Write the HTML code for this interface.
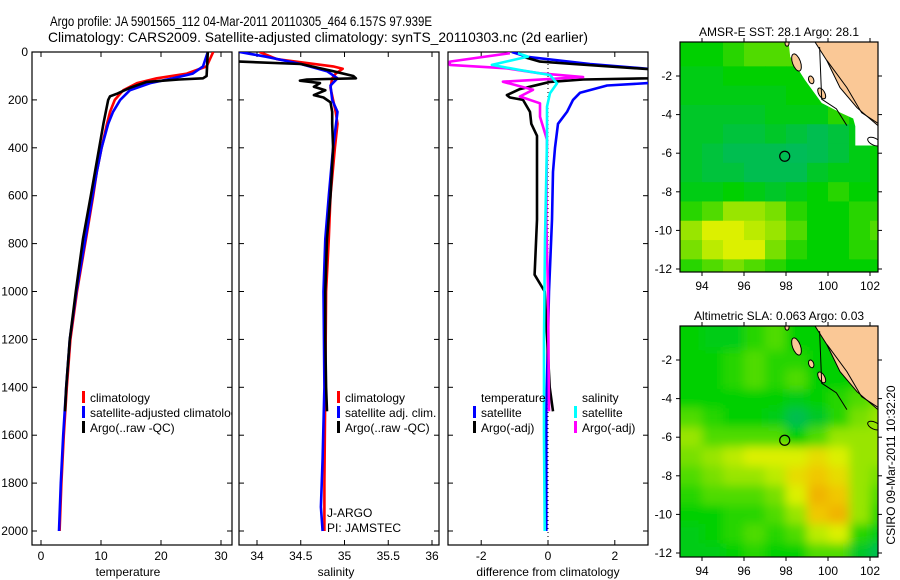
<!DOCTYPE html>
<html><head><meta charset="utf-8"><style>
html,body{margin:0;padding:0;background:#fff;}
svg{display:block;font-family:"Liberation Sans",sans-serif;}
</style></head><body>
<svg id="fig" width="900" height="580" viewBox="0 0 900 580" xmlns="http://www.w3.org/2000/svg">
<defs>
<clipPath id="c1"><rect x="32" y="52" width="200" height="493"/></clipPath>
<clipPath id="c2"><rect x="239" y="52" width="200" height="493"/></clipPath>
<clipPath id="c3"><rect x="448" y="52" width="200" height="493"/></clipPath>
<clipPath id="cm1"><rect x="680" y="42" width="198" height="230"/></clipPath>
<clipPath id="cm2"><rect x="680" y="326" width="198" height="231"/></clipPath>
<filter id="blur"><feGaussianBlur stdDeviation="5"/></filter>
</defs>
<text x="50" y="26" font-size="14" textLength="382" lengthAdjust="spacingAndGlyphs">Argo profile: JA 5901565_112 04-Mar-2011 20110305_464 6.157S 97.939E</text>
<text x="48" y="42" font-size="14" textLength="540" lengthAdjust="spacingAndGlyphs">Climatology: CARS2009. Satellite-adjusted climatology: synTS_20110303.nc (2d earlier)</text>
<g id="layer"></g>
</svg>
<script>
// ---- profile data (pressure in dbar) ----
const depthClim=[0,60,90,110,130,160,200,250,300,400,500,600,780,1000,1200,1400,1600,1800,2000];
const tempClim=[28.7,27.6,24.3,19.3,16,13.7,12.3,11.5,11,10.1,9.3,8.7,7.5,6,4.9,4.3,3.8,3.4,3.1];
const tempSat=[27.8,27,25.3,22,18.2,14.8,13.2,12,11.2,10.1,9.3,8.6,7.4,5.9,4.8,4.2,3.7,3.3,3.0];
const depthArgo=[0,100,110,115,125,150,175,185,200,300,400,500,600,780,1000,1200,1400,1500];
const tempArgo=[27.8,27.6,27,23,17.6,14.8,12.6,11.5,11.2,10.4,9.7,9,8.3,7,5.8,4.8,4.2,4.0];
const depthSalClim=[0,30,60,70,90,110,150,250,300,400,600,780,1000,1400,1800,2000];
const salClim=[34.03,34.23,34.87,34.98,34.9,34.86,34.84,34.9,34.92,34.89,34.84,34.82,34.79,34.78,34.77,34.77];
const depthSalSat=[0,20,50,80,110,140,200,250,400,600,780,1000,1400,1700,1900,2000];
const salSat=[33.8,34.11,34.5,34.8,34.92,34.84,34.86,34.92,34.87,34.82,34.78,34.76,34.77,34.75,34.73,34.75];
const depthSalArgo=[40,50,80,100,110,115,120,130,145,160,180,190,210,250,300,400,600,780,1000,1200,1400,1500];
const salArgo=[33.8,34.5,34.87,35.1,35.13,34.57,34.49,34.72,34.65,34.78,34.65,34.76,34.84,34.86,34.86,34.87,34.84,34.8,34.78,34.78,34.79,34.8];
const depthDT=[0,20,50,70,90,110,130,140,170,200,250,300,400,500,700,1000,1500,2000];
const diffTSat=[-1.08,-0.63,1.26,3,3.6,3.6,3,1.77,0.96,0.75,0.57,0.3,0.21,0.15,0.12,0.03,-0.05,-0.05];
const depthDA=[20,40,50,75,100,110,115,125,135,155,180,190,200,250,300,350,500,700,930,1000,1400,1500];
const diffTArgo=[-0.75,-0.24,0.75,3.4,3.4,3,1.05,0.06,-0.24,-0.84,-1.23,-1.14,-0.75,-0.54,-0.5,-0.33,-0.33,-0.33,-0.4,-0.1,0.05,0.15];
const depthDS=[5,19,54,75,96,131,172,228,367,783,1200,1600,2000];
const diffSSat=[-0.9,-0.6,-1.68,-0.84,0.06,0.27,0.06,-0.03,-0.03,-0.09,-0.12,-0.12,-0.1];
const depthDSA=[5,40,54,68,89,105,124,158,186,214,270,339,367,700,1000,1500];
const diffSArgo=[-1.14,-2.94,-2.94,-1.24,-0.24,1.05,-1.35,-0.45,-0.84,-0.24,-0.24,-0.09,-0.03,-0.05,0.0,0.03];
const yTicks=[0,200,400,600,800,1000,1200,1400,1600,1800,2000];
const tTicks=[0,10,20,30];
const sTicks=[34,34.5,35,35.5,36];
const dTicks=[-2,0,2];
// ---- map data (rows lat -1..-12, cols lon 93.5..102.5) ----
const mapLons=[93.5,94.5,95.5,96.5,97.5,98.5,99.5,100.5,101.5,102.5];
const mapLats=[-1,-2,-3,-4,-5,-6,-7,-8,-9,-10,-11,-12];
const sstGrid=[
[.5,.5,.55,.6,.6,.6,.5,.5,.5,.5],
[.45,.45,.5,.5,.5,.5,.5,.5,.5,.5],
[.45,.45,.45,.45,.45,.5,.5,.5,.5,.5],
[.4,.4,.4,.4,.45,.45,.45,.55,.5,.5],
[.4,.4,.35,.35,.4,.35,.3,.35,.45,.5],
[.4,.35,.3,.3,.3,.25,.3,.35,.45,.5],
[.4,.35,.35,.3,.3,.3,.4,.45,.45,.5],
[.45,.45,.5,.45,.4,.45,.5,.55,.5,.5],
[.55,.6,.7,.7,.65,.55,.5,.5,.55,.55],
[.7,.8,.8,.75,.7,.6,.5,.5,.55,.6],
[.65,.75,.8,.8,.65,.55,.5,.5,.55,.55],
[.55,.6,.65,.6,.55,.5,.5,.5,.5,.5]];
const slaGrid=[
[.5,.45,.45,.55,.6,.5,.5,.5,.5,.5],
[.5,.5,.55,.6,.55,.55,.5,.5,.5,.5],
[.5,.5,.55,.6,.55,.6,.5,.5,.5,.6],
[.5,.5,.5,.5,.5,.45,.5,.55,.6,.65],
[.6,.55,.5,.5,.45,.3,.4,.55,.65,.7],
[.7,.6,.6,.6,.6,.5,.6,.7,.7,.7],
[.65,.7,.75,.8,.8,.8,.85,.8,.7,.7],
[.6,.65,.7,.7,.75,.85,.9,.85,.7,.65],
[.55,.6,.6,.6,.65,.8,.95,.9,.7,.6],
[.5,.5,.55,.55,.6,.7,.9,.95,.7,.55],
[.45,.5,.55,.6,.55,.6,.75,.8,.55,.45],
[.45,.45,.5,.55,.5,.5,.6,.6,.4,.3]];
const lonTicks=[94,96,98,100,102];
const latTicks=[-2,-4,-6,-8,-10,-12];
const argoPos=[97.939,-6.157];

const NS='http://www.w3.org/2000/svg';
const L=document.getElementById('layer');
function mk(tag,attrs,parent){const e=document.createElementNS(NS,tag);for(const k in attrs)e.setAttribute(k,attrs[k]);(parent||L).appendChild(e);return e;}
function txt(x,y,s,fs,anchor,parent){const e=mk('text',{x:x,y:y,'font-size':fs,'text-anchor':anchor||'start'},parent);e.textContent=s;return e;}
const Y=d=>52+d*0.2395;
const xT=t=>41+t*6;
const xS=s=>257+(s-34)*87.5;
const xD=v=>548+v*33.4;

function panel(x0,clip,name,xf,ticks,label,lx,fmt){
  const g=mk('g',{});
  
  
  const r=mk('rect',{x:x0,y:52,width:200,height:493,fill:'none',stroke:'#000','stroke-width':1.2},g);
  
  
  yTicks.forEach(d=>{mk('line',{x1:x0,x2:x0+5,y1:Y(d),y2:Y(d),stroke:'#000'},g);mk('line',{x1:x0+195,x2:x0+200,y1:Y(d),y2:Y(d),stroke:'#000'},g);});
  ticks.forEach(t=>{const x=xf(t);mk('line',{x1:x,x2:x,y1:545,y2:540,stroke:'#000'},g);mk('line',{x1:x,x2:x,y1:52,y2:57,stroke:'#000'},g);
    const tl=txt(x,560,fmt(t),12,'middle',g);
    
    });
  const xl=txt(lx,576,label,12,'middle',g);
  
  
  return g;
}
function series(depths,vals,xf,color,clip,name,w){
  const pts=depths.map((d,i)=>xf(vals[i]).toFixed(1)+','+Y(d).toFixed(1)).join(' ');
  const p=mk('polyline',{points:pts,fill:'none',stroke:color,'stroke-width':w||2.6,'clip-path':'url(#'+clip+')','stroke-linejoin':'round'});
  
  
}
yTicks.forEach(d=>{const t=txt(28,Y(d)+4,String(d),12,'end');
  
  });
panel(32,'c1','temperature-panel',xT,tTicks,'temperature',128,String);
panel(239,'c2','salinity-panel',xS,sTicks,'salinity',336,String);
panel(448,'c3','difference-panel',xD,dTicks,'difference from climatology',548,String);
const z=mk('line',{x1:xD(0),x2:xD(0),y1:52,y2:545,stroke:'#000','stroke-dasharray':'1,3'});



series(depthClim,tempClim,xT,'#f00','c1','temperature-climatology-line');
series(depthClim,tempSat,xT,'#00f','c1','temperature-satellite-line');
series(depthArgo,tempArgo,xT,'#000','c1','temperature-argo-line');
series(depthSalClim,salClim,xS,'#f00','c2','salinity-climatology-line');
series(depthSalSat,salSat,xS,'#00f','c2','salinity-satellite-line');
series(depthSalArgo,salArgo,xS,'#000','c2','salinity-argo-line');
series(depthDT,diffTSat,xD,'#00f','c3','temp-satellite-diff-line');
series(depthDA,diffTArgo,xD,'#000','c3','temp-argo-diff-line');
series(depthDSA,diffSArgo,xD,'#f0f','c3','sal-argo-diff-line');
series(depthDS,diffSSat,xD,'#0ff','c3','sal-satellite-diff-line');

function legend(x,y,color,label,clip){
  const g=mk('g',{});
  
  
  mk('rect',{x:x,y:y-11,width:3,height:12,fill:color},g);
  const t=txt(x+8,y,label,12,'start',g);
  if(clip)t.setAttribute('clip-path','url(#'+clip+')');
}
legend(82,402,'#f00','climatology','c1');
legend(82,417,'#00f','satellite-adjusted climatology','c1');
legend(82,432,'#000','Argo(..raw -QC)','c1');
legend(337,402,'#f00','climatology');
legend(337,417,'#00f','satellite adj. clim.');
legend(337,432,'#000','Argo(..raw -QC)');
const th=txt(481,402,'temperature',12);
const sh=txt(582,402,'salinity',12);
legend(473,417,'#00f','satellite');
legend(473,432,'#000','Argo(-adj)');
legend(574,417,'#0ff','satellite');
legend(574,432,'#f0f','Argo(-adj)');
const j1=txt(327,517,'J-ARGO',12);
const j2=txt(327,532,'PI: JAMSTEC',12);

// ---- maps ----
function cmap(v){
  const stops=[[0,[0,176,128]],[0.3,[0,190,80]],[0.5,[0,208,0]],[0.65,[120,224,0]],[0.8,[220,240,0]],[0.9,[240,200,0]],[1,[240,160,0]]];
  for(let i=1;i<stops.length;i++){if(v<=stops[i][0]){const a=stops[i-1],b=stops[i],f=(v-a[0])/(b[0]-a[0]);
    return 'rgb('+a[1].map((c,k)=>Math.round(c+(b[1][k]-c)*f)).join(',')+')';}}
  return 'rgb(240,160,0)';
}
function drawMap(top,bottom,lat2y,grid,clip,name,title,smooth,white){
  const LX=lon=>702+(lon-94)*21;
  const LY=lat2y;
  const g=mk('g',{});
  
  
  const cells=mk('g',{'clip-path':'url(#'+clip+')'},g);
  const inner=mk('g',smooth?{filter:'url(#blur)'}:{},cells);
  grid.forEach((row,i)=>row.forEach((v,j)=>{
    const x1=LX(mapLons[j]-0.5),x2=LX(mapLons[j]+0.5);
    let y1=LY(mapLats[i]+0.5),y2=LY(mapLats[i]-0.5);
    if(i===0)y1=top-20; if(i===grid.length-1)y2=bottom+20;
    const c=mk('rect',{x:(j===0?x1-20:x1),y:y1,width:(x2-x1)+(j===0||j===9?20:0)+0.5,height:y2-y1+0.5,fill:cmap(v)},inner);
    
    
  }));
  const P=a=>a.map(p=>LX(p[0]).toFixed(1)+','+LY(p[1]).toFixed(1)).join(' ');
  if(white){mk('polygon',{points:P([[98.0,1],[98.2,-1.0],[98.9,-2.2],[99.7,-3.4],[100.6,-3.9],[101.2,-4.2],[101.3,-4.6],[101.3,-5.6],[103,-5.6],[103,1]]),fill:'#fff'},cells);}
  const land=mk('polygon',{points:P([[99.3,1],[99.38,-0.24],[99.95,-1.22],[100.57,-2.6],[101.38,-3.64],[102.38,-4.57],[103,-4.6],[103,1]]),fill:'#fac896',stroke:'#000','stroke-width':1},cells);
  
  
  [[98.05,-0.3,2,3,0],[98.5,-1.3,4,9,-20],[99.2,-2.2,2.5,4,-20],[99.7,-2.9,3,6,-30]].forEach(e=>{
    const cx=LX(e[0]),cy=LY(e[1]);
    mk('ellipse',{cx:cx,cy:cy,rx:e[2],ry:e[3],fill:'#fac896',stroke:'#000','stroke-width':1,transform:'rotate('+e[4]+' '+cx+' '+cy+')'},cells);});
  mk('polyline',{points:P([[99.6,-0.5],[99.7,-3.2],[100.4,-3.7],[100.9,-4.57]]),fill:'none',stroke:'#000','stroke-width':1},cells);
  mk('polyline',{points:P([[99.95,-1.2],[100.9,-2.6],[101.6,-3.9],[102.38,-4.45]]),fill:'none',stroke:'#000','stroke-width':1},cells);
  mk('ellipse',{cx:LX(102.2),cy:LY(-5.4),rx:7,ry:3.5,fill:'none',stroke:'#000','stroke-width':1,transform:'rotate(25 '+LX(102.2)+' '+LY(-5.4)+')'},cells);
  const fr=mk('rect',{x:680,y:top,width:198,height:bottom-top,fill:'none',stroke:'#000','stroke-width':1.2},g);
  
  
  const circ=mk('circle',{cx:LX(argoPos[0]),cy:LY(argoPos[1]),r:5,fill:'none',stroke:'#000','stroke-width':1.2},g);
  
  
  lonTicks.forEach(l=>{const x=LX(l);mk('line',{x1:x,x2:x,y1:bottom,y2:bottom+4,stroke:'#000'},g);mk('line',{x1:x,x2:x,y1:top,y2:top-4,stroke:'#000'},g);
    const t=txt(x,bottom+18,String(l),12,'middle',g);
    
    });
  latTicks.forEach(l=>{const y=LY(l);mk('line',{x1:680,x2:676,y1:y,y2:y,stroke:'#000'},g);mk('line',{x1:878,x2:882,y1:y,y2:y,stroke:'#000'},g);
    const t=txt(672,y+4,String(l),12,'end',g);
    
    });
  const tt=txt(779,top-6,title,12,'middle',g);
  
  
}
drawMap(42,272,lat=>76+(-2-lat)*19.3,sstGrid,'cm1','sst-map','AMSR-E SST: 28.1 Argo: 28.1',false,true);
drawMap(326,557,lat=>360+(-2-lat)*19.3,slaGrid,'cm2','sla-map','Altimetric SLA: 0.063 Argo: 0.03',true,false);
const cs=txt(0,0,'CSIRO 09-Mar-2011 10:32:20',12,'middle');
cs.setAttribute('transform','translate(895,465) rotate(-90)');


</script>
</body></html>
